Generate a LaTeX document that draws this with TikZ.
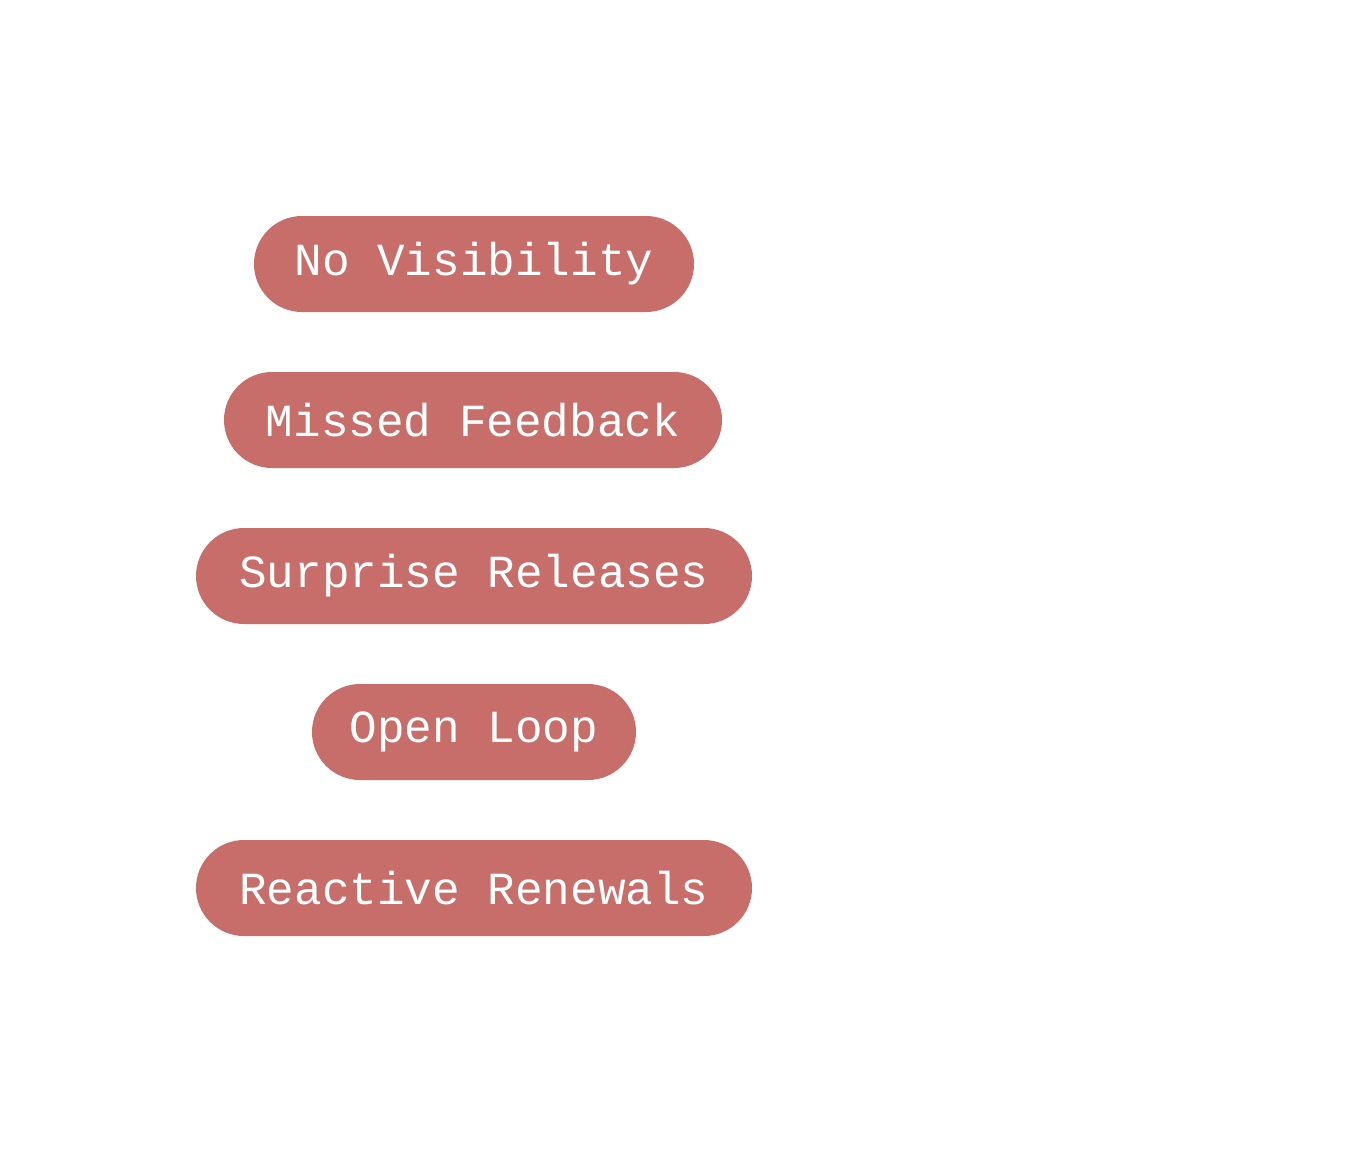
\documentclass[tikz,border=0pt]{standalone}
\usepackage{fontspec}
\setmonofont{Liberation Mono}
\usetikzlibrary{arrows.meta}
\definecolor{pill}{HTML}{C86E6A}
\begin{document}
\begin{tikzpicture}[x=1pt,y=-1pt,
  pillbox/.style={fill=pill,rounded corners=48pt,minimum height=96pt,inner sep=0pt,text=white,font=\ttfamily\fontsize{46}{50}\selectfont},
  loopline/.style={draw=white,line width=10pt,line cap=round}]
\useasboundingbox (0,0) rectangle (1360,1152);
\fill[white] (0,0) rectangle (1360,1152);
\node[pillbox,minimum width=440pt] (a) at (474,264) {No Visibility};
\node[pillbox,minimum width=498pt] (b) at (473,420) {Missed Feedback};
\node[pillbox,minimum width=556pt] (c) at (474,576) {Surprise Releases};
\node[pillbox,minimum width=324pt] (d) at (474,732) {Open Loop};
\node[pillbox,minimum width=556pt] (e) at (474,888) {Reactive Renewals};
\node[text=white,font=\sffamily\bfseries\fontsize{46}{50}\selectfont] (t) at (1035,680) {Open Loop};
\coordinate (s1) at (445,165);
\coordinate (s2) at (860,95);
\draw[loopline,-{Latex[length=20pt]}] (s1) .. controls (445,120) and (480,95) .. (520,95) -- (s2);
\draw[loopline] (845,800) .. controls (860,760) and (900,740) .. (940,740);
\draw[loopline] (440,1000) .. controls (450,1040) and (480,1065) .. (510,1065);
\draw[loopline] (790,1065) .. controls (820,1060) and (840,1030) .. (845,995);
\end{tikzpicture}
\end{document}
